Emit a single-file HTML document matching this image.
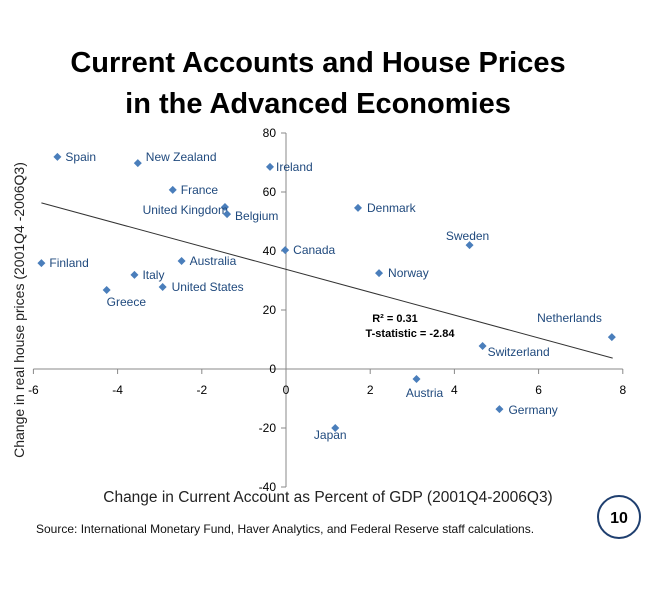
<!DOCTYPE html>
<html><head><meta charset="utf-8"><style>
body{margin:0;background:#fff;width:650px;height:600px;overflow:hidden;font-family:"Liberation Sans",sans-serif}
svg{display:block}
</style></head><body>
<svg id="chart" width="650" height="600">
<text x="318" y="72" text-anchor="middle" font-size="29" font-weight="bold">Current Accounts and House Prices</text>
<text x="318" y="113" text-anchor="middle" font-size="29" font-weight="bold">in the Advanced Economies</text>
<g id="axes"></g><g id="marks"></g>
<text transform="translate(24,310) rotate(-90)" text-anchor="middle" font-size="14" fill="#222">Change in real house prices (2001Q4 -2006Q3)</text>
<text x="328" y="502" text-anchor="middle" font-size="15.5" fill="#222">Change in Current Account as Percent of GDP (2001Q4-2006Q3)</text>
<text x="36" y="533" font-size="12" fill="#111">Source:  International Monetary Fund, Haver Analytics, and Federal Reserve staff calculations.</text>
<circle cx="619" cy="517" r="21" fill="none" stroke="#1F3F6F" stroke-width="2"/>
<text x="619" y="523" text-anchor="middle" font-size="16" font-weight="bold">10</text>
<text x="395" y="322" text-anchor="middle" font-size="11" font-weight="bold">R² = 0.31</text>
<text x="410" y="337" text-anchor="middle" font-size="11" font-weight="bold">T-statistic = -2.84</text>
</svg>
<script>
const countries=["Spain","New Zealand","France","United Kingdom","Belgium","Ireland","Canada","Finland","Australia","Italy","Greece","United States","Denmark","Sweden","Norway","Netherlands","Switzerland","Austria","Germany","Japan"];
const caChange=[-5.43,-3.52,-2.69,-1.45,-1.40,-0.38,-0.02,-5.81,-2.48,-3.6,-4.26,-2.93,1.71,4.36,2.21,7.74,4.67,3.1,5.07,1.17];
const housePrice=[71.9,69.8,60.7,54.9,52.5,68.5,40.3,35.9,36.6,31.9,26.8,27.8,54.6,42,32.5,10.8,7.8,-3.4,-13.6,-20];
const xTicks=[-6,-4,-2,0,2,4,6,8];
const yTicks=[-40,-20,0,20,40,60,80];
const trendX=[-5.81,7.76];
const trendY=[56.3,3.7];
const labelPos={"Spain":[8,4,"start"],"New Zealand":[8,-2,"start"],"France":[8,4,"start"],"United Kingdom":[3,7,"end"],"Belgium":[8,6,"start"],"Ireland":[6,4,"start"],"Canada":[8,4,"start"],"Finland":[8,4,"start"],"Australia":[8,4,"start"],"Italy":[8,4,"start"],"Greece":[0,16,"start"],"United States":[9,4,"start"],"Denmark":[9,4,"start"],"Sweden":[-2,-5,"middle"],"Norway":[9,4,"start"],"Netherlands":[-10,-15,"end"],"Switzerland":[5,10,"start"],"Austria":[8,18,"middle"],"Germany":[9,5,"start"],"Japan":[-5,11,"middle"]};
const X=v=>286+v*42.1, Y=v=>369-v*2.95;
const NS="http://www.w3.org/2000/svg";
const mk=(t,a,p)=>{const e=document.createElementNS(NS,t);for(const k in a)e.setAttribute(k,a[k]);p.appendChild(e);return e;};
const ax=document.getElementById('axes'), mg=document.getElementById('marks');
let e=mk('line',{x1:X(0),x2:X(0),y1:Y(80),y2:Y(-40),stroke:'#888'},ax);


e=mk('line',{x1:X(-6),x2:X(8),y1:Y(0),y2:Y(0),stroke:'#888'},ax);


xTicks.forEach(t=>{mk('line',{x1:X(t),x2:X(t),y1:Y(0),y2:Y(0)+5,stroke:'#888'},ax);
 const tx=mk('text',{x:X(t),y:Y(0)+25,'text-anchor':'middle','font-size':12},ax);tx.textContent=t;
 
 });
yTicks.forEach(t=>{mk('line',{x1:X(0)-5,x2:X(0),y1:Y(t),y2:Y(t),stroke:'#888'},ax);
 const tx=mk('text',{x:X(0)-10,y:Y(t)+4,'text-anchor':'end','font-size':12},ax);tx.textContent=t;
 
 });
e=mk('line',{x1:X(trendX[0]),y1:Y(trendY[0]),x2:X(trendX[1]),y2:Y(trendY[1]),stroke:'#333','stroke-width':1},mg);


countries.forEach((c,i)=>{const px=X(caChange[i]),py=Y(housePrice[i]);
 const p=mk('polygon',{points:`${px},${py-4} ${px+4},${py} ${px},${py+4} ${px-4},${py}`,fill:'#4A7EBB'},mg);
 
 
 const o=labelPos[c];
 const t=mk('text',{x:px+o[0],y:py+o[1],'text-anchor':o[2],'font-size':12,fill:'#1F497D'},mg);t.textContent=c;
 
 });
</script>
</body></html>
